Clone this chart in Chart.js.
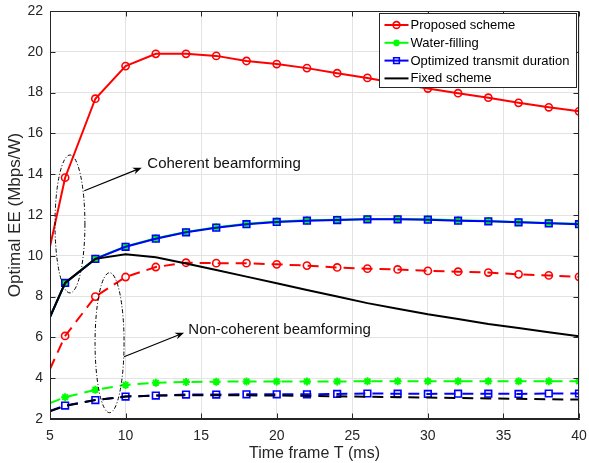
<!DOCTYPE html>
<html>
<head>
<meta charset="utf-8">
<script src="https://cdn.jsdelivr.net/npm/chart.js@4.4.1/dist/chart.umd.min.js"></script>
<style>
  html, body { margin: 0; padding: 0; background: #fff; }
  #wrap { width: 589px; height: 463px; }
</style>
</head>
<body>
<div id="wrap"><canvas id="ee" width="589" height="463"></canvas></div>
<script>
// time frame T (ms)
const frameT = [5, 6, 8, 10, 12, 14, 16, 18, 20, 22, 24, 26, 28, 30, 32, 34, 36, 38, 40];
const xTicks = [5, 10, 15, 20, 25, 30, 35, 40];
const yTicks = [2, 4, 6, 8, 10, 12, 14, 16, 18, 20, 22];

// coherent beamforming
const proposedCoh = [10.45, 13.83, 17.7, 19.3, 19.9, 19.9, 19.8, 19.55, 19.4, 19.2, 18.95, 18.72, 18.45, 18.2, 17.97, 17.75, 17.5, 17.28, 17.08];
const waterCoh    = [7.0, 8.67, 9.86, 10.46, 10.86, 11.17, 11.4, 11.57, 11.68, 11.74, 11.77, 11.81, 11.81, 11.79, 11.74, 11.71, 11.66, 11.61, 11.57];
const optimCoh    = [7.0, 8.67, 9.85, 10.44, 10.84, 11.15, 11.38, 11.55, 11.66, 11.72, 11.75, 11.79, 11.79, 11.77, 11.72, 11.69, 11.64, 11.59, 11.55];
const fixedCoh    = [7.0, 8.67, 9.85, 10.07, 9.93, 9.62, 9.3, 8.98, 8.65, 8.32, 8.0, 7.68, 7.4, 7.13, 6.9, 6.66, 6.46, 6.25, 6.05];

// non-coherent beamforming
const proposedNon = [4.45, 6.07, 8.0, 8.96, 9.45, 9.66, 9.64, 9.64, 9.58, 9.52, 9.43, 9.37, 9.33, 9.26, 9.22, 9.18, 9.09, 9.04, 8.97];
const waterNon    = [2.78, 3.07, 3.43, 3.67, 3.78, 3.81, 3.83, 3.84, 3.84, 3.84, 3.84, 3.85, 3.85, 3.85, 3.85, 3.85, 3.85, 3.85, 3.85];
const optimNon    = [2.4, 2.66, 2.93, 3.1, 3.15, 3.2, 3.2, 3.21, 3.21, 3.21, 3.23, 3.25, 3.24, 3.23, 3.24, 3.24, 3.23, 3.25, 3.25];
const fixedNon    = [2.38, 2.64, 2.93, 3.1, 3.15, 3.17, 3.17, 3.16, 3.15, 3.13, 3.11, 3.09, 3.07, 3.05, 3.03, 3.01, 2.99, 2.97, 2.95];

const legendNames = ['Proposed scheme', 'Water-filling', 'Optimized transmit duration', 'Fixed scheme'];

// callouts, in data units
const groupRings = [
  { x: 6.32, y: 11.56, rx: 0.99, ry: 3.38 },
  { x: 8.94, y: 5.74, rx: 0.96, ry: 3.43 }
];
const callouts = [
  { from: [7.27, 13.19], to: [11.07, 14.32], label: 'Coherent beamforming', at: [11.44, 14.5] },
  { from: [9.9, 5.05], to: [13.87, 6.23], label: 'Non-coherent beamforming', at: [14.15, 6.36] }
];

const FONT = '"Liberation Sans", Arial, Helvetica, sans-serif';
const INK = '#262626';
const DASH = [11, 7];

const pts = (vals) => frameT.map((t, i) => ({ x: t, y: vals[i] }));
const radii = (r) => frameT.map(t => t === 5 ? 0 : r);

function series(vals, color, style, r, dashed, order) {
  return {
    data: pts(vals),
    borderColor: color,
    backgroundColor: 'rgba(0,0,0,0)',
    borderWidth: 2,
    borderDash: dashed ? DASH : [],
    pointStyle: style,
    pointRadius: style ? radii(r) : 0,
    pointBorderColor: color,
    pointBackgroundColor: style === 'star' ? color : 'rgba(0,0,0,0)',
    pointBorderWidth: style === 'star' ? 2 : 1.6,
    tension: 0,
    order
  };
}

const datasets = [
  series(fixedCoh, '#000000', false, 0, false, 1),
  series(optimCoh, '#0000ff', 'rect', 4.7, false, 2),
  series(waterCoh, '#00ff00', 'star', 4, false, 3),
  series(proposedCoh, '#ff0000', 'circle', 3.6, false, 4),
  series(fixedNon, '#000000', false, 0, true, 5),
  series(optimNon, '#0000ff', 'rect', 4.7, true, 6),
  series(waterNon, '#00ff00', 'star', 4, true, 7),
  series(proposedNon, '#ff0000', 'circle', 3.6, true, 8)
];

// box around the axes plus inward ticks on all four sides
const axesFrame = {
  id: 'axesFrame',
  afterDraw(chart) {
    const { ctx, chartArea: a, scales: { x, y } } = chart;
    const L = Math.round(a.left) + 0.5, R = Math.round(a.right) - 0.5;
    const T = Math.round(a.top) + 0.5, B = Math.round(a.bottom) - 0.5;
    ctx.save();
    ctx.strokeStyle = INK;
    ctx.lineWidth = 1;
    ctx.strokeRect(L, T, R - L, B - T);
    ctx.beginPath();
    xTicks.forEach(v => {
      const px = Math.round(x.getPixelForValue(v)) + 0.5;
      ctx.moveTo(px, B); ctx.lineTo(px, B - 5);
      ctx.moveTo(px, T); ctx.lineTo(px, T + 5);
    });
    yTicks.forEach(v => {
      const py = Math.round(y.getPixelForValue(v)) + 0.5;
      ctx.moveTo(L, py); ctx.lineTo(L + 5, py);
      ctx.moveTo(R, py); ctx.lineTo(R - 5, py);
    });
    ctx.stroke();
    ctx.restore();
  }
};

// dash-dot rings, arrows and their labels
const annotate = {
  id: 'annotate',
  afterDatasetsDraw(chart) {
    const { ctx, scales: { x, y } } = chart;
    ctx.save();
    ctx.strokeStyle = '#000';
    ctx.lineWidth = 1;
    ctx.setLineDash([4, 2, 1, 2]);
    groupRings.forEach(g => {
      const cx = x.getPixelForValue(g.x), cy = y.getPixelForValue(g.y);
      const rx = x.getPixelForValue(g.x + g.rx) - cx;
      const ry = cy - y.getPixelForValue(g.y + g.ry);
      ctx.beginPath();
      ctx.ellipse(cx, cy, rx, ry, 0, 0, Math.PI * 2);
      ctx.stroke();
    });
    ctx.setLineDash([]);
    callouts.forEach(c => {
      const x0 = x.getPixelForValue(c.from[0]), y0 = y.getPixelForValue(c.from[1]);
      const x1 = x.getPixelForValue(c.to[0]), y1 = y.getPixelForValue(c.to[1]);
      const ang = Math.atan2(y1 - y0, x1 - x0);
      const cs = Math.cos(ang), sn = Math.sin(ang);
      ctx.lineWidth = 1.2;
      ctx.beginPath();
      ctx.moveTo(x0, y0);
      ctx.lineTo(x1 - 6 * cs, y1 - 6 * sn);
      ctx.stroke();
      ctx.fillStyle = '#000';
      ctx.beginPath();
      ctx.moveTo(x1, y1);
      ctx.lineTo(x1 - 9 * cs + 3.5 * sn, y1 - 9 * sn - 3.5 * cs);
      ctx.lineTo(x1 - 6 * cs, y1 - 6 * sn);
      ctx.lineTo(x1 - 9 * cs - 3.5 * sn, y1 - 9 * sn + 3.5 * cs);
      ctx.closePath();
      ctx.fill();
      ctx.font = '15px ' + FONT;
      ctx.textAlign = 'left';
      ctx.textBaseline = 'middle';
      ctx.fillStyle = '#111';
      ctx.fillText(c.label, x.getPixelForValue(c.at[0]), y.getPixelForValue(c.at[1]));
    });
    ctx.restore();
  }
};

// legend box in the upper right corner, coherent series only
const cornerLegend = {
  id: 'cornerLegend',
  afterDraw(chart) {
    const { ctx, chartArea: a } = chart;
    const w = 197, h = 74;
    const left = Math.round(a.right - 3 - w) + 0.5, top = Math.round(a.top + 2) + 0.5;
    ctx.save();
    ctx.fillStyle = '#fff';
    ctx.fillRect(left, top, w, h);
    ctx.strokeStyle = INK;
    ctx.lineWidth = 1;
    ctx.strokeRect(left, top, w, h);
    [3, 2, 1, 0].forEach((di, i) => {
      const ds = chart.data.datasets[di];
      const cy = top + 11.5 + i * 17.8;
      ctx.strokeStyle = ds.borderColor;
      ctx.lineWidth = 2;
      ctx.beginPath();
      ctx.moveTo(left + 5, cy);
      ctx.lineTo(left + 29, cy);
      ctx.stroke();
      if (ds.pointStyle) {
        ctx.fillStyle = ds.pointBackgroundColor;
        ctx.strokeStyle = ds.pointBorderColor;
        ctx.lineWidth = ds.pointBorderWidth;
        Chart.helpers.drawPoint(ctx, {
          pointStyle: ds.pointStyle,
          radius: ds.pointStyle === 'rect' ? 4 : 3.4,
          borderWidth: ds.pointBorderWidth,
          rotation: 0
        }, left + 17, cy);
      }
      ctx.font = '13px ' + FONT;
      ctx.textAlign = 'left';
      ctx.textBaseline = 'middle';
      ctx.fillStyle = '#000';
      ctx.fillText(legendNames[i], left + 31, cy + 0.5);
    });
    ctx.restore();
  }
};

new Chart(document.getElementById('ee'), {
  type: 'line',
  data: { datasets },
  options: {
    responsive: false,
    animation: false,
    devicePixelRatio: 1,
    layout: { padding: { top: 11, right: 10, left: 0, bottom: 0 } },
    plugins: { legend: { display: false }, tooltip: { enabled: false } },
    scales: {
      x: {
        type: 'linear', min: 5, max: 40,
        afterFit: s => { s.height = 44; s.paddingLeft = 0; s.paddingRight = 0; },
        afterBuildTicks: s => { s.ticks = xTicks.map(v => ({ value: v })); },
        ticks: { color: INK, padding: 9, font: { family: FONT, size: 14 } },
        grid: { color: '#e3e3e3', drawTicks: false },
        border: { color: INK },
        title: { display: true, text: 'Time frame T (ms)', color: INK, padding: { top: 0, bottom: 0 }, font: { family: FONT, size: 16 } }
      },
      y: {
        type: 'linear', min: 2, max: 22,
        afterFit: s => { s.width = 50; s.paddingTop = 0; s.paddingBottom = 0; },
        afterBuildTicks: s => { s.ticks = yTicks.map(v => ({ value: v })); },
        ticks: { color: INK, padding: 7, font: { family: FONT, size: 14 } },
        grid: { color: '#e3e3e3', drawTicks: false },
        border: { color: INK },
        title: { display: true, text: 'Optimal EE (Mbps/W)', color: INK, padding: { top: 5, bottom: 0 }, font: { family: FONT, size: 17 } }
      }
    }
  },
  plugins: [annotate, axesFrame, cornerLegend]
});
</script>
</body>
</html>
